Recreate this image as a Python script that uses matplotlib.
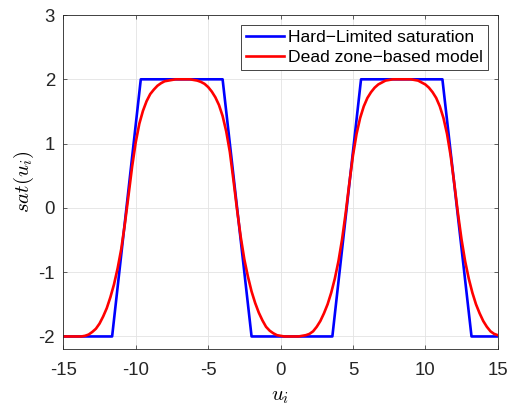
import matplotlib
matplotlib.use('Agg')
import matplotlib.pyplot as plt

# hard-limited saturation: corner points
hard_x = [-15, -11.63, -9.65, -4.0, -2.0, 3.58, 5.56, 11.18, 13.19, 15]
hard_y = [-2, -2, 2, 2, -2, -2, 2, 2, -2, -2]

# dead zone-based model, read every 0.25 along u_i
model_x = [-15.0, -14.75, -14.5, -14.25, -14.0, -13.75, -13.5, -13.25, -13.0, -12.75,
           -12.5, -12.25, -12.0, -11.75, -11.5, -11.25, -11.0, -10.75, -10.5, -10.25,
           -10.0, -9.75, -9.5, -9.25, -9.0, -8.75, -8.5, -8.25, -8.0, -7.75,
           -7.5, -7.25, -7.0, -6.75, -6.5, -6.25, -6.0, -5.75, -5.5, -5.25,
           -5.0, -4.75, -4.5, -4.25, -4.0, -3.75, -3.5, -3.25, -3.0, -2.75,
           -2.5, -2.25, -2.0, -1.75, -1.5, -1.25, -1.0, -0.75, -0.5, -0.25,
           0.0, 0.25, 0.5, 0.75, 1.0, 1.25, 1.5, 1.75, 2.0, 2.25,
           2.5, 2.75, 3.0, 3.25, 3.5, 3.75, 4.0, 4.25, 4.5, 4.75,
           5.0, 5.25, 5.5, 5.75, 6.0, 6.25, 6.5, 6.75, 7.0, 7.25,
           7.5, 7.75, 8.0, 8.25, 8.5, 8.75, 9.0, 9.25, 9.5, 9.75,
           10.0, 10.25, 10.5, 10.75, 11.0, 11.25, 11.5, 11.75, 12.0, 12.25,
           12.5, 12.75, 13.0, 13.25, 13.5, 13.75, 14.0, 14.25, 14.5, 14.75,
           15.0]
model_y = [-2.0, -2.0, -2.0, -2.0, -2.0, -2.0, -1.99, -1.97, -1.93, -1.88,
           -1.80, -1.69, -1.56, -1.39, -1.19, -0.94, -0.64, -0.25, 0.19, 0.64,
           1.02, 1.31, 1.51, 1.66, 1.77, 1.84, 1.90, 1.94, 1.97, 1.98,
           1.99, 2.0, 2.0, 2.0, 2.0, 2.0, 1.99, 1.98, 1.96, 1.93,
           1.88, 1.81, 1.72, 1.60, 1.43, 1.19, 0.87, 0.43, -0.03, -0.45,
           -0.80, -1.07, -1.30, -1.48, -1.63, -1.75, -1.85, -1.91, -1.95, -1.98,
           -1.99, -2.0, -2.0, -2.0, -2.0, -2.0, -1.99, -1.98, -1.96, -1.92,
           -1.85, -1.76, -1.64, -1.50, -1.32, -1.10, -0.83, -0.49, -0.08, 0.38,
           0.81, 1.15, 1.40, 1.58, 1.71, 1.80, 1.87, 1.92, 1.95, 1.98,
           1.99, 2.0, 2.0, 2.0, 2.0, 2.0, 2.0, 1.99, 1.98, 1.95,
           1.92, 1.87, 1.80, 1.71, 1.58, 1.40, 1.15, 0.81, 0.38, -0.08,
           -0.49, -0.83, -1.10, -1.32, -1.50, -1.64, -1.76, -1.85, -1.92, -1.96,
           -1.98]

xticks = [-15, -10, -5, 0, 5, 10, 15]
yticks = [-2, -1, 0, 1, 2, 3]

plt.rcParams['font.family'] = ['Liberation Sans', 'DejaVu Sans']
plt.rcParams['mathtext.fontset'] = 'cm'

fig = plt.figure(figsize=(5.07, 4.05), dpi=100)
ax = fig.add_axes([0.1249, 0.1375, 0.8568, 0.8254])

ax.plot(hard_x, hard_y, color='#0000ff', lw=1.9, label='Hard\u2212Limited saturation')
ax.plot(model_x, model_y, color='#ff0000', lw=1.9, label='Dead zone\u2212based model')

ax.set_xlim(-15, 15)
ax.set_ylim(-2.2, 3)
ax.set_xticks(xticks)
ax.set_yticks(yticks)
ax.set_xticklabels([str(t) for t in xticks])
ax.set_yticklabels([str(t) for t in yticks])

ax.grid(True, color='#e3e3e3', lw=0.6)
ax.set_axisbelow(True)
ax.tick_params(direction='in', length=3, width=0.5, colors='#262626',
               labelsize=13.4, top=True, right=True)
ax.tick_params(axis='x', pad=9)
ax.tick_params(axis='y', pad=6)
for s in ax.spines.values():
    s.set_color('#262626')
    s.set_linewidth(0.6)

ax.set_xlabel('$u_i$', fontsize=15, labelpad=6)
ax.set_ylabel('$sat(u_i)$', fontsize=15, labelpad=2)

leg = ax.legend(loc='upper right', fontsize=12.6, fancybox=False, framealpha=1,
                edgecolor='#262626', borderaxespad=0.55, handlelength=2.2,
                handletextpad=0.2, labelspacing=0.25, borderpad=0.3)
leg.get_frame().set_linewidth(0.6)

fig.savefig('out.png', dpi=100)
